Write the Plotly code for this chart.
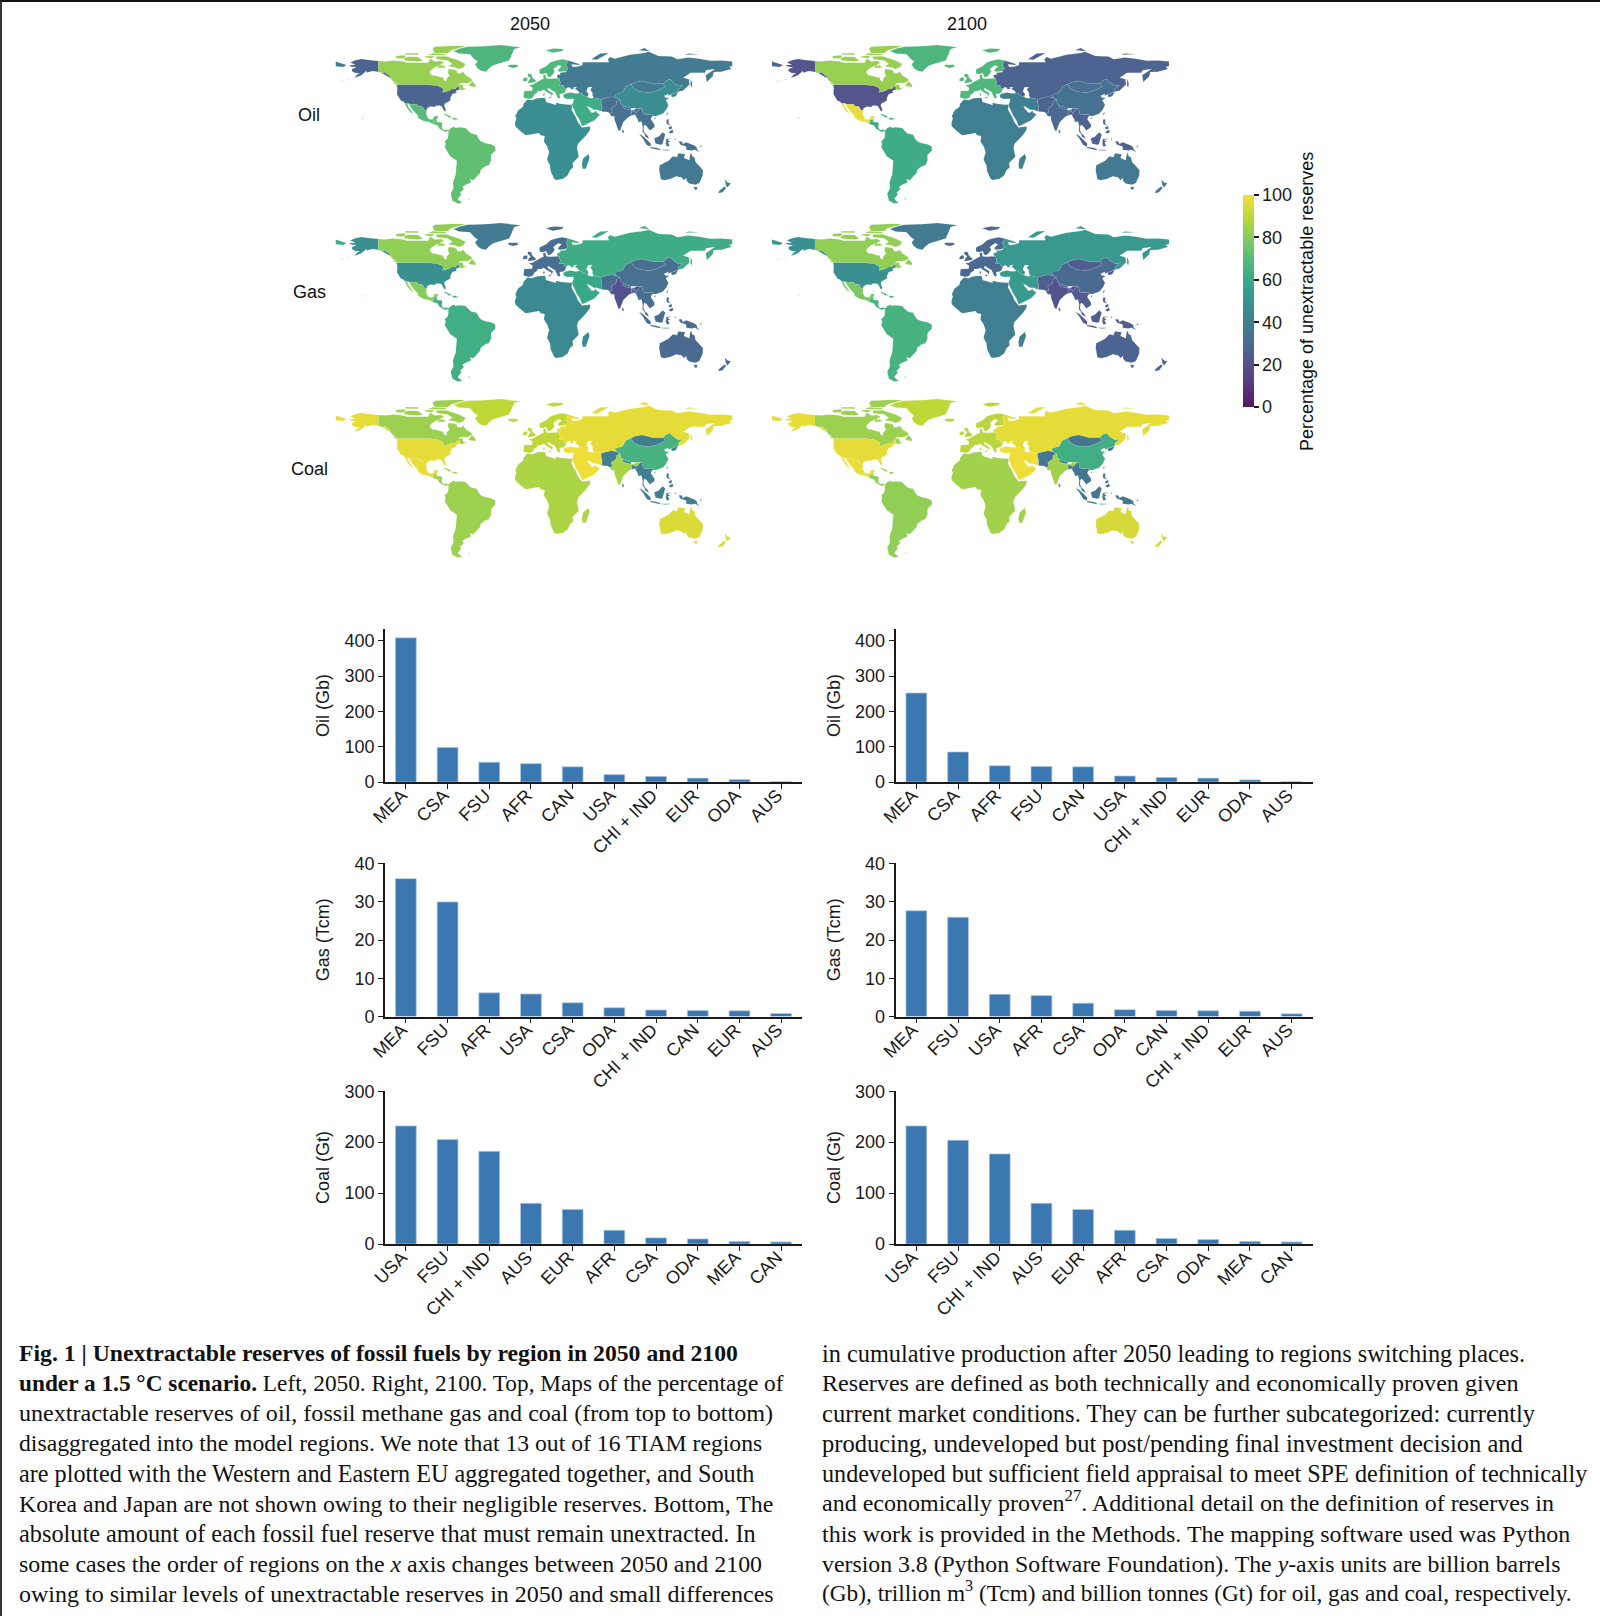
import plotly.graph_objects as go

W, H = 1600, 1616

# ---------- region outlines (lon, lat); hand-read, no basemap is reachable offline ----------
OUTLINES = {
 "USA": [
  [(-124.7,48.4),(-123,49),(-95.2,49),(-94.6,48.7),(-92,48.3),(-89.6,48),(-88.4,48.3),(-84.9,46.9),(-82.5,45.3),(-82.1,43.6),(-83.1,42.1),(-79,42.8),(-79,43.3),(-76.8,43.6),(-75,45),(-71.5,45),(-70.3,46.2),(-69.2,47.4),(-67.8,47.1),(-67.8,45.7),(-67,44.8),(-70.2,43.6),(-70.8,42.6),(-70,41.7),(-74,40.6),(-75.5,38.5),(-76,36.9),(-75.5,35.2),(-78,33.9),(-81,32),(-81.4,30.4),(-80,26.8),(-80.4,25.2),(-81.8,26),(-82.8,28),(-84,30),(-86,30.4),(-89.5,30.2),(-89.4,29.1),(-91.5,29.4),(-94,29.6),(-97,28),(-97.3,26),(-99.2,26.4),(-101.4,29.7),(-102.7,29.7),(-104.5,29.6),(-106.5,31.8),(-108.2,31.4),(-111,31.3),(-114.8,32.5),(-117.1,32.5),(-118.5,34),(-120.6,34.6),(-121.9,36.6),(-123.7,38.9),(-124.3,40.3),(-124.1,43),(-124,46.2)],
  [(-141,69.6),(-141,60.2),(-137.5,58.9),(-135.5,59.8),(-130,55.9),(-130.5,54.8),(-134,56.5),(-136,58),(-140,59.7),(-146,60.8),(-149,60),(-152,59.2),(-151.8,61),(-153.5,59.5),(-156.5,57),(-160.5,55.5),(-163,54.8),(-160,58),(-158,58.7),(-162,59),(-165,60.5),(-165,62.5),(-161,64),(-166,64.6),(-168,65.7),(-162,66.3),(-166.5,68.3),(-162,70.2),(-156.5,71.3),(-150,70.5)],
  [(-178,51.8),(-172,52.3),(-166,53.8),(-167,53.2),(-173,52),(-178,51.8)],
  [(-156,20),(-155,19.7),(-155.6,19)],
 ],
 "CAN": [
  [(-141,69.6),(-135,69),(-128,70),(-120,69.4),(-115,68),(-108,68),(-100,68),(-96,68),(-94,71.8),(-90,69),(-85,69.5),(-81.5,68.5),(-85,66),(-87,65),(-90,64),(-94,61),(-94.5,59),(-92.5,57),(-88,56.4),(-85,55.3),(-82.2,55),(-82,52.9),(-79.5,51.3),(-79,54.5),(-76.6,56.5),(-78,59),(-77.5,62.4),(-73,62),(-70,61),(-69.5,58.8),(-66,58.8),(-64.5,60.3),(-61.5,56.5),(-57.5,54.5),(-55.8,52.5),(-60,50.2),(-66.5,50.2),(-69,48.5),(-65,49.2),(-64.5,47.5),(-64,45.8),(-61,45.6),(-60,46.5),(-65.5,43.6),(-67,44.8),(-67.8,45.7),(-67.8,47.1),(-69.2,47.4),(-70.3,46.2),(-71.5,45),(-75,45),(-76.8,43.6),(-79,43.3),(-79,42.8),(-83.1,42.1),(-82.1,43.6),(-82.5,45.3),(-84.9,46.9),(-88.4,48.3),(-89.6,48),(-92,48.3),(-94.6,48.7),(-95.2,49),(-123,49),(-125,50),(-128,52),(-130.5,54.8),(-130,55.9),(-135.5,59.8),(-137.5,58.9),(-141,60.2)],
  [(-80,73.7),(-72,71.5),(-68,70),(-62,67),(-64,64),(-68,62.5),(-72,64),(-78,65),(-74,67),(-78,70),(-88,71),(-89,73.5)],
  [(-117,70),(-105,69),(-101,69.8),(-105,73),(-114,73.3),(-118,72)],
  [(-90,76.5),(-78,76.5),(-75,79),(-62,82.5),(-70,83),(-90,82),(-92,80)],
  [(-125,72),(-119,71.8),(-116,73.5),(-118,74.5),(-125,74)],
  [(-96,74.7),(-80,74.7),(-80,75.7),(-92,76.3)],
  [(-117,75.2),(-105,75),(-105,76.4),(-117,76.4)],
  [(-100,73),(-93,72),(-90,73.7),(-97,74)],
  [(-87,63.5),(-80,63.7),(-82,65.5),(-87,65.5)],
  [(-59.3,47.7),(-56,46.9),(-53,46.8),(-52.8,48),(-55.5,51.5),(-57,51)],
  [(-128,50.7),(-125.3,50.3),(-123.4,48.4),(-125.5,48.9)],
 ],
 "GRL": [
  [(-73,78.2),(-68,76),(-58,75.5),(-54,71),(-51,69),(-53.5,66.5),(-51,63),(-48,61),(-43.5,60),(-41,63),(-37,65.8),(-30,68),(-22.5,70),(-21,73),(-19,77),(-18,80),(-12,81.5),(-30,83.5),(-45,82.5),(-60,82),(-67,80.5)],
 ],
 "MEX": [
  [(-117.1,32.5),(-114.8,32.5),(-111,31.3),(-108.2,31.4),(-106.5,31.8),(-104.5,29.6),(-102.7,29.7),(-101.4,29.7),(-99.2,26.4),(-97.3,26),(-97.8,22.5),(-96,19),(-94,18.2),(-91.5,18.5),(-90.5,21),(-87,21.5),(-88,18.5),(-89,17.9),(-91,17.8),(-91,16),(-92.2,14.5),(-95,16),(-100,17),(-105,19.5),(-105.5,22),(-109,25.5),(-112.5,30),(-113,31.3),(-114.7,31.7),(-114.5,30),(-110,24),(-109.5,23),(-112,24.5),(-115,28)],
 ],
 "CSA": [
  [(-92.2,14.5),(-91,16),(-91,17.8),(-89,17.9),(-88,18.5),(-88.3,16),(-84,15.8),(-83.2,15),(-83.7,11),(-82,9),(-79.5,9.5),(-77,8.7),(-75.5,10.7),(-72,12),(-71.5,10.8),(-68,11.5),(-62,10.7),(-60,8.5),(-57,6),(-52,4.8),(-50,1),(-48,-1),(-44,-2.7),(-39,-3.5),(-35.2,-5.5),(-35,-9),(-39,-13),(-39,-18),(-41,-22),(-44.5,-23),(-48.5,-26),(-48.7,-28.5),(-52.5,-33),(-55,-35),(-58,-34.2),(-57,-37),(-62,-39),(-65,-41),(-63.5,-42.7),(-67,-46),(-65.8,-47.5),(-69,-51),(-68.3,-52.5),(-65.2,-54.8),(-69,-55.5),(-74,-53),(-75.5,-47),(-73,-42),(-73.5,-37),(-71,-30),(-70,-18),(-76,-14),(-81,-6),(-80,-3),(-81,-1),(-78,2),(-77.5,7),(-78,8.3),(-80.5,7.3),(-83,8.3),(-85.7,10),(-87.5,13)],
  [(-85,21.9),(-80,23.1),(-74.2,20.2),(-77.7,19.9),(-78.5,21.2),(-82,22.5)],
  [(-74.4,18.4),(-72.8,19.9),(-68.4,18.6),(-71,18)],
  [(-78.3,18.4),(-76.3,18.2),(-77,17.8)],
  [(-60,-51.3),(-58,-51.4),(-59,-52.2)],
 ],
 "EUR": [
  [(-9,37),(-9.5,38.8),(-8.8,43.3),(-1.8,43.4),(-1.2,46),(-4.7,48.3),(-1.5,48.7),(1.5,50.5),(3.5,51.4),(6.8,53.4),(8.7,54),(8.2,57),(10.6,57.7),(10.8,54.3),(14.3,53.9),(19,54.4),(22.8,54.3),(23.5,51.5),(24,50.5),(22.8,48),(26.5,48.2),(28,45.3),(29.6,45.2),(28.5,43.5),(28,42),(26,40.8),(24,40.8),(23,40),(24,38),(22.8,36.5),(21.2,37.8),(19.5,41.5),(19.5,42),(14,45.2),(13.8,45.7),(12.3,45.3),(12.5,44),(16,41.8),(18.4,40.2),(16.9,40.5),(16.5,39),(16,38),(15.7,40),(12.3,41.7),(10.5,43),(8.8,44.4),(6.5,43.2),(3.2,43.2),(3.2,41.9),(0,39.8),(-0.5,38.2),(-2,36.8),(-5.4,36.1),(-6.3,36.8)],
  [(5,58.5),(5,62),(11,65),(15,68.5),(20,70),(25.5,71),(31,70),(29,66),(31,62.5),(28,60.5),(23,60),(21.5,61.5),(25,65),(22,65.7),(17.5,62.5),(18.8,60),(16.5,57),(14.3,55.5),(12.8,55.5),(11,59),(8,58)],
  [(-5.5,50),(1.5,51.2),(1.5,52.8),(0,53.5),(-2,56),(-2,57.7),(-5,58.5),(-6,56.5),(-3,54.5),(-5,52)],
  [(-10,51.7),(-6,52.2),(-6,55),(-8.5,55),(-10,53.5)],
  [(-24,65.5),(-22,64),(-18.7,63.4),(-14.5,64.5),(-15,66.2),(-22,66.3)],
  [(10.5,79),(17,76.7),(25,78),(27,80),(18,80.5)],
  [(12.5,38),(15.6,38.2),(15,36.7)],
  [(8.3,41),(9.7,41),(9.5,39),(8.4,39)],
  [(23.5,35.5),(26.3,35.2),(24.5,34.9)],
 ],
 "FSU": [
  [(21,55),(21,57),(24,58),(23.5,59.3),(28,59.7),(30,60),(28,60.5),(31,62.5),(29,66),(31,70),(41,67),(41,66),(34,66.7),(35,64.3),(40,64.7),(44,66),(44,68.5),(54,68.5),(60,69),(68,68.5),(67,71),(69,73),(73,71.5),(75,72),(81,73.5),(87,75),(100,76.5),(104,77.7),(113,74),(125,73.5),(130,71),(140,72.7),(150,71.5),(160,69.7),(170,70),(180,69),(180,65),(177,64.5),(179,62.5),(170,60),(163,59.8),(162,56),(156.7,51),(155.7,57),(164,62.5),(156,61.5),(155,59.3),(142,59.3),(135.3,54.8),(140.5,53.5),(141,49),(135,43.5),(132,43),(130.7,42.3),(131,45),(135,48.3),(131,47.7),(127,50),(123.5,53.5),(120,52.5),(117,49.6),(108,49.6),(98,52),(92,50.8),(87.8,49.2),(83,47),(80.5,42.2),(74,40.2),(73.5,39.5),(75,37.2),(70,38.2),(66.5,37.3),(61,36),(54,37.3),(53,39.5),(53,42),(51,44.5),(53,46.7),(49,46.5),(47.5,43),(49.5,40.5),(48.8,38.4),(45,39),(43.5,41.2),(41.5,41.5),(39,44),(37,45),(39,47),(35,46),(36.5,45.2),(33.5,44.5),(33,46),(30.7,46.4),(29.6,45.2),(28,45.3),(26.5,48.2),(22.8,48),(24,50.5),(23.5,51.5),(22.8,54.3)],
  [(142,54),(143.5,50),(143,46),(142,48)],
  [(52,71),(57,70.7),(68,76.5),(60,76)],
  [(95,79),(105,78),(100,81)],
  [(137,75),(145,75),(150,75.5),(140,76)],
  [(-180,69),(-175,67.5),(-170,66),(-173,64.3),(-180,65)],
 ],
 "MEA": [
  [(26.3,39.5),(27.3,37),(30.5,36.3),(36,36.5),(35.8,34),(34.5,31.3),(35,29.5),(36.5,26),(38.5,22),(41.5,17.5),(42.8,14.5),(43.3,12.7),(45,12.8),(52,15.6),(55,17.5),(59.8,22.5),(56.5,24.5),(56.3,26.2),(54,24.2),(51.5,24.5),(51.2,26),(50,26.5),(48,30),(50.8,29),(54,26.7),(57,26.8),(61.6,25.2),(61.8,29.5),(60.8,33.5),(61,36),(54,37.3),(53,36.7),(49,37.5),(48.8,38.4),(45,39),(43.5,41.2),(41.5,41.5),(38,41),(35,42),(33,42),(28.5,41)],
 ],
 "AFR": [
  [(-6,35.8),(-2,35.2),(3,36.8),(10,37.3),(11,33.5),(15,32.3),(20,31),(20,33),(25,31.7),(32.3,31.2),(34.2,31.3),(34.5,29.5),(34,27),(36,23.5),(37.8,20.5),(40,15.5),(43.2,12),(43.5,11.3),(51,12),(50.8,9),(47,4),(40,-3),(39,-6.5),(40.6,-14.5),(35,-20),(35.5,-24),(32.8,-26),(30.5,-31),(26,-34),(20,-34.8),(18.3,-34),(15,-27),(14.5,-22),(11.8,-17),(13.7,-10.5),(12,-5.5),(9,-1),(9.7,3.8),(6,4.3),(4.5,6.3),(-3,5),(-7.7,4.4),(-13,8.5),(-16.8,12),(-17.4,14.7),(-16,19),(-17,21),(-14.5,26),(-10,29.5),(-9.5,32)],
  [(49.3,-12),(50.4,-15.5),(47,-25),(44,-25),(43.5,-21),(44.5,-16)],
 ],
 "CHI": [
  [(73.5,39.5),(74,40.2),(80.5,42.2),(83,47),(87.8,49.2),(91,45),(96,42.7),(105,41.7),(112,43.7),(119.5,47),(117,49.6),(120,52.5),(123.5,53.5),(127,50),(131,47.7),(135,48.3),(131,45),(130.7,42.3),(128,41.5),(124.3,40),(121.5,39),(122,40.7),(118,39),(119,37.5),(122.5,37),(119.5,35),(122,31),(120,27),(117,23.5),(113.5,22.2),(110,21),(108,21.6),(106.7,22.8),(102,22.4),(99,23),(98,28),(92,27.8),(88,28),(81,30.3),(78.7,32),(78,35.5),(75,37.2)],
  [(120,23),(121.8,25),(121,22)],
  [(108.7,19.3),(110.5,20),(110,18.4)],
 ],
 "MNG": [
  [(87.8,49.2),(92,50.8),(98,52),(108,49.6),(117,49.6),(119.5,47),(112,43.7),(105,41.7),(96,42.7),(91,45)],
  [(124.3,40),(128,41.5),(130.7,42.3),(128.5,38.5),(125,37.8)],
 ],
 "IND": [
  [(68.5,23.7),(70,21),(72.8,21),(73,18),(74.5,14),(76.5,8.5),(78,8.3),(80.3,13.5),(81,16),(85,19.7),(87,21.3),(88.8,21.8),(88.3,25.8),(88.2,26.6),(84,27.4),(80.2,28.8),(81,30.3),(78.7,32),(78,35.5),(77.5,35.5),(74.8,34),(74.5,31),(70,27.8),(71,24.5)],
  [(88.2,26.6),(92,26.9),(92,27.8),(97,28),(95,26),(93.5,24.5),(92.3,24.5),(91,25.2),(88.5,26)],
 ],
 "ODA": [
  [(61,36),(60.8,33.5),(61.8,29.5),(61.6,25.2),(67,24.8),(68.5,23.7),(71,24.5),(70,27.8),(74.5,31),(74.8,34),(77.5,35.5),(75,37.2),(70,38.2),(66.5,37.3)],
  [(80.2,28.8),(84,27.4),(88.2,26.6),(88,28),(81,30.3)],
  [(88.8,21.8),(91.5,22.5),(92.5,20.8),(93,23),(92.3,24.5),(91,25.2),(88.5,26),(88.3,25.8)],
  [(92.5,20.8),(94.3,18),(94.5,16),(97.5,16.5),(98.6,12),(98.3,8),(100.3,5.5),(101,3),(104.2,1.4),(103.4,3.5),(100.3,6.5),(99.3,9),(99.5,12),(100.3,13.5),(102,12.5),(105,8.6),(109.2,11.5),(109.3,13.5),(106,18.5),(106.5,20.2),(108,21.6),(106.7,22.8),(102,22.4),(99,23),(98,28),(97,28),(95,26),(93.5,24.5),(92.3,24.5),(93,23)],
  [(80,9.7),(81.8,7.5),(80.7,6),(79.8,8)],
  [(95.3,5.6),(98.5,4),(104,-1),(106,-3),(105.5,-5.8),(102,-4),(98.7,1.5)],
  [(105.3,-6.8),(106,-6),(111,-6.5),(114.5,-7.7),(114.5,-8.7),(108,-7.8)],
  [(109,1.5),(111.4,2.5),(113,3.2),(116.7,7),(119,5),(117.8,1),(116.5,-3.5),(114.5,-4),(110.2,-2.9)],
  [(120,1),(125,1.5),(121,0.3),(123.5,-1),(121.5,-1.8),(123,-5),(120.4,-5.5),(119.5,-3)],
  [(131,-1),(134,-0.8),(135,-3.3),(138,-1.7),(145,-4.3),(147.5,-6),(148,-8),(150.5,-10.5),(146,-8.3),(143,-9),(138,-8.3),(138,-5.5),(133,-4)],
  [(120.5,18.5),(122.3,18.3),(122,15),(124,13),(120.6,14),(120,16)],
  [(122,7),(125.5,9.5),(126.5,7),(124,6)],
  [(122,11.5),(125,12.5),(125,10),(122.5,9.5)],
  [(117.5,8.5),(119.5,11.3),(119,10)],
  [(124,-10),(127,-8.3),(125,-9)],
  [(115,-8.3),(119,-8.3),(123,-8.3),(123,-8.8),(118,-9)],
  [(127.5,2),(128.5,1),(128,-0.5)],
  [(129,-3),(131,-3.2),(129,-3.6)],
  [(150,-5.5),(152,-4.3),(152,-5.8)],
  [(156,-7),(160,-9.5),(158,-8)],
 ],
 "AUS": [
  [(114,-22),(113.5,-26),(115,-34.3),(118,-35),(123.5,-34),(129,-31.6),(134,-32.7),(136,-35),(138,-33),(138.5,-35.7),(140.6,-38),(146.4,-39),(150,-37.5),(153,-31),(153.2,-26),(146.5,-19),(145.5,-15),(143.5,-14),(142.5,-10.8),(141.5,-13),(140.8,-17.5),(136,-15.5),(137,-12.2),(131,-11.3),(129.5,-15),(126,-14),(122,-18)],
  [(144.7,-40.7),(148.3,-40.9),(147.5,-43.5),(146,-43.5)],
  [(173,-34.5),(175.5,-37),(178.5,-37.7),(175.5,-41.5),(174,-39.5)],
  [(172.7,-40.5),(174.3,-41.7),(171,-45.5),(167,-46.5),(168,-44.3)],
 ],
}

# ---------- map values (% unextractable), in MAP_REGIONS order ----------
MAP_REGIONS = ["USA","CAN","GRL","MEX","CSA","EUR","FSU","MEA","AFR","CHI","MNG","IND","ODA","AUS"]
OIL_2050  = [28,83,67,70,72,68,38,62,47,47,38,33,33,37]
OIL_2100  = [21,83,67,98,62,68,27,40,40,34,33,30,27,37]
GAS_2050  = [48,82,38,80,63,32,62,60,45,33,32,20,31,30]
GAS_2100  = [48,82,38,78,65,30,52,53,40,30,25,20,25,28]
COAL_2050 = [97,84,90,98,84,90,97,99,87,65,40,86,40,95]
COAL_2100 = [97,84,90,98,82,89,97,99,85,63,36,85,36,94]

# ---------- bar values ----------
OIL_2050_LAB  = ["MEA","CSA","FSU","AFR","CAN","USA","CHI + IND","EUR","ODA","AUS"]
OIL_2050_VAL  = [408,98,56,52,43,21,16,11,7,1]
OIL_2100_LAB  = ["MEA","CSA","AFR","FSU","CAN","USA","CHI + IND","EUR","ODA","AUS"]
OIL_2100_VAL  = [252,85,46,44,43,17,13,11,6,1]
GAS_2050_LAB  = ["MEA","FSU","AFR","USA","CSA","ODA","CHI + IND","CAN","EUR","AUS"]
GAS_2050_VAL  = [36.1,30,6.2,5.9,3.6,2.3,1.7,1.6,1.5,0.8]
GAS_2100_LAB  = ["MEA","FSU","USA","AFR","CSA","ODA","CAN","CHI + IND","EUR","AUS"]
GAS_2100_VAL  = [27.7,26,5.8,5.5,3.5,1.8,1.6,1.5,1.4,0.7]
COAL_2050_LAB = ["USA","FSU","CHI + IND","AUS","EUR","AFR","CSA","ODA","MEA","CAN"]
COAL_2050_VAL = [232,205,182,80,68,27,12,10,5,4]
COAL_2100_LAB = ["USA","FSU","CHI + IND","AUS","EUR","AFR","CSA","ODA","MEA","CAN"]
COAL_2100_VAL = [232,204,177,80,68,27,11,9,5,4]

CAPTION_LEFT = [
 "<b>Fig. 1 | Unextractable reserves of fossil fuels by region in 2050 and 2100</b>",
 "<b>under a 1.5 °C scenario.</b> Left, 2050. Right, 2100. Top, Maps of the percentage of",
 "unextractable reserves of oil, fossil methane gas and coal (from top to bottom)",
 "disaggregated into the model regions. We note that 13 out of 16 TIAM regions",
 "are plotted with the Western and Eastern EU aggregated together, and South",
 "Korea and Japan are not shown owing to their negligible reserves. Bottom, The",
 "absolute amount of each fossil fuel reserve that must remain unextracted. In",
 "some cases the order of regions on the <i>x</i> axis changes between 2050 and 2100",
 "owing to similar levels of unextractable reserves in 2050 and small differences",
]
CAPTION_RIGHT = [
 "in cumulative production after 2050 leading to regions switching places.",
 "Reserves are defined as both technically and economically proven given",
 "current market conditions. They can be further subcategorized: currently",
 "producing, undeveloped but post/pending final investment decision and",
 "undeveloped but sufficient field appraisal to meet SPE definition of technically",
 "and economically proven<sup>27</sup>. Additional detail on the definition of reserves in",
 "this work is provided in the Methods. The mapping software used was Python",
 "version 3.8 (Python Software Foundation). The <i>y</i>-axis units are billion barrels",
 "(Gb), trillion m<sup>3</sup> (Tcm) and billion tonnes (Gt) for oil, gas and coal, respectively.",
]
SIZES_LEFT = [23.7, 23.3, 24.1, 23.7, 24.2, 23.8, 24.3, 23.9, 24.0]
SIZES_RIGHT = [24.3, 24.1, 24.6, 24.5, 24.2, 24.0, 24.0, 23.8, 23.3]
SHIFT_RIGHT = [0, 0, 0, 0, 0, -3, 0, 0, -3]

# ---------- styling ----------
SANS = "Liberation Sans, Arial, sans-serif"
SERIF = "Liberation Serif, serif"
INK = "#1a1a1a"
BAR = "#3b77b0"
BAR_EDGE = "#b3cbe3"
VIRIDIS = [(68,1,84),(72,36,117),(65,68,135),(53,95,141),(42,120,142),(33,145,140),
           (34,168,132),(68,191,112),(122,209,81),(189,223,38),(253,231,37)]
MUTE = 0.14
MUTE_TO = (200, 170, 170)
FS = 18

def muted(v):
    t = max(0, min(100, v)) / 10
    i = min(int(t), 9)
    f = t - i
    c = [VIRIDIS[i][k] + (VIRIDIS[i+1][k] - VIRIDIS[i][k]) * f for k in range(3)]
    c = [round(c[k] + (MUTE_TO[k] - c[k]) * MUTE) for k in range(3)]
    return f"rgb({c[0]},{c[1]},{c[2]})"

SCALE = [[k / 10, muted(k * 10)] for k in range(11)]

def px(x): return x / W
def py(y): return 1 - y / H
def dom_x(a, b): return [px(a), px(b)]
def dom_y(top, bottom): return [py(bottom), py(top)]

fig = go.Figure()
layout = dict(width=W, height=H, autosize=False,
              margin=dict(l=0, r=0, t=0, b=0, pad=0, autoexpand=False),
              paper_bgcolor="white", plot_bgcolor="white", showlegend=False,
              font=dict(family=SANS, size=FS, color=INK), hovermode="closest", bargap=0.5)

axis_id = 0
def new_axes(xdom, ydom, xopts, yopts):
    global axis_id
    axis_id += 1
    n = "" if axis_id == 1 else str(axis_id)
    layout["xaxis" + n] = dict(domain=xdom, anchor="y" + n, **xopts)
    layout["yaxis" + n] = dict(domain=ydom, anchor="x" + n, **yopts)
    return "x" + n, "y" + n

# ---------- maps ----------
MAP_COLS = [(335.5, 732.5), (772, 1169)]
MAP_ROWS = [44.5, 222.5, 398.5]
MAP_H = 159.6
MAP_DATA = [[OIL_2050, OIL_2100], [GAS_2050, GAS_2100], [COAL_2050, COAL_2100]]
first_map = None
for r, top in enumerate(MAP_ROWS):
    for c, (l, rt) in enumerate(MAP_COLS):
        hidden = dict(visible=False, fixedrange=True)
        xa, ya = new_axes(dom_x(l, rt), dom_y(top, top + MAP_H),
                          dict(range=[-180, 180], **hidden), dict(range=[-56, 84], **hidden))
        first_map = first_map or (xa, ya)
        for region, value in zip(MAP_REGIONS, MAP_DATA[r][c]):
            xs, ys = [], []
            for poly in OUTLINES[region]:
                xs += [p[0] for p in poly] + [poly[0][0], None]
                ys += [p[1] for p in poly] + [poly[0][1], None]
            fig.add_trace(go.Scatter(x=xs, y=ys, xaxis=xa, yaxis=ya, mode="lines", fill="toself",
                                     fillcolor=muted(value),
                                     line=dict(color="rgba(255,255,255,0.2)", width=0.4),
                                     name=region, hoverinfo="name"))

# ---------- colour bar ----------
fig.add_trace(go.Scatter(x=[0, 0], y=[0, 0], xaxis=first_map[0], yaxis=first_map[1], mode="markers",
    hoverinfo="skip",
    marker=dict(color=[0, 100], cmin=0, cmax=100, colorscale=SCALE, size=1, opacity=0, showscale=True,
        colorbar=dict(thicknessmode="pixels", thickness=11, lenmode="pixels", len=212,
                      x=px(1243), xanchor="left", y=py(301), yanchor="middle", xpad=0, ypad=0,
                      outlinewidth=0, tickvals=[0, 20, 40, 60, 80, 100], ticks="outside", ticklen=5,
                      tickwidth=1.5, tickcolor=INK, tickfont=dict(family=SANS, size=FS, color=INK)))))

# ---------- bars ----------
BAR_COLS = [(385, 802), (895.5, 1312.5)]
BAR_ROWS = [
 (629, 782, [0, 433], [0, 100, 200, 300, 400], "Oil (Gb)", 10,
  [(OIL_2050_LAB, OIL_2050_VAL), (OIL_2100_LAB, OIL_2100_VAL)]),
 (863, 1016.5, [0, 40.2], [0, 10, 20, 30, 40], "Gas (Tcm)", 20,
  [(GAS_2050_LAB, GAS_2050_VAL), (GAS_2100_LAB, GAS_2100_VAL)]),
 (1091, 1244, [0, 300.5], [0, 100, 200, 300], "Coal (Gt)", 10,
  [(COAL_2050_LAB, COAL_2050_VAL), (COAL_2100_LAB, COAL_2100_VAL)]),
]
for top, bottom, yr, yt, ytitle, gap, pair in BAR_ROWS:
    for (l, rt), (labs, vals) in zip(BAR_COLS, pair):
        xa, ya = new_axes(dom_x(l, rt), dom_y(top, bottom),
            dict(type="category", range=[-0.5, 9.5], categoryorder="array", categoryarray=labs,
                 showline=True, linecolor=INK, linewidth=1.6, ticks="outside", ticklen=5, tickwidth=1.4,
                 tickcolor=INK, tickangle=-45, showgrid=False, zeroline=False, tickfont=dict(size=FS),
                 ticklabelstandoff=-11, ticklabelshift=-4),
            dict(range=yr, tickvals=yt, showline=True, linecolor=INK, linewidth=1.6, ticks="outside",
                 ticklen=5, tickwidth=1.4, tickcolor=INK, showgrid=False, zeroline=False,
                 tickfont=dict(size=FS), title=dict(text=ytitle, standoff=gap, font=dict(size=FS))))
        fig.add_trace(go.Bar(x=labs, y=vals, xaxis=xa, yaxis=ya, width=0.5,
                             marker=dict(color=BAR, line=dict(color=BAR_EDGE, width=0.7))))

# ---------- text ----------
notes = []
def note(x, y, text, size=FS, family=SANS, anchor="center", angle=0):
    notes.append(dict(x=px(x), y=py(y), xref="paper", yref="paper", text=text, showarrow=False,
                      textangle=angle, xanchor=anchor, yanchor="middle",
                      font=dict(family=family, size=size, color="#111")))

note(530, 24, "2050")
note(967, 24, "2100")
note(309, 115, "Oil")
note(309, 292, "Gas")
note(309, 469, "Coal")
note(1307, 302, "Percentage of unextractable reserves", angle=-90)
LINE_Y = [1353 + 30.1 * i for i in range(9)]
for i, y in enumerate(LINE_Y):
    note(16.5, y, CAPTION_LEFT[i], size=SIZES_LEFT[i], family=SERIF, anchor="left")
    note(820, y + SHIFT_RIGHT[i], CAPTION_RIGHT[i], size=SIZES_RIGHT[i], family=SERIF, anchor="left")
layout["annotations"] = notes

layout["shapes"] = [
    dict(type="line", xref="paper", yref="paper", x0=0, x1=1, y0=py(1), y1=py(1),
         line=dict(color="#111", width=1.8)),
    dict(type="line", xref="paper", yref="paper", x0=px(1), x1=px(1), y0=0, y1=1,
         line=dict(color="#222", width=1.8)),
]

fig.update_layout(**layout)
fig.write_html("out.html", config={"displayModeBar": False},
               post_script="var g=document.getElementById('{plot_id}');"
                           "g.style.position='fixed';g.style.left='0';g.style.top='0';"
                           "document.body.style.margin='0';")
